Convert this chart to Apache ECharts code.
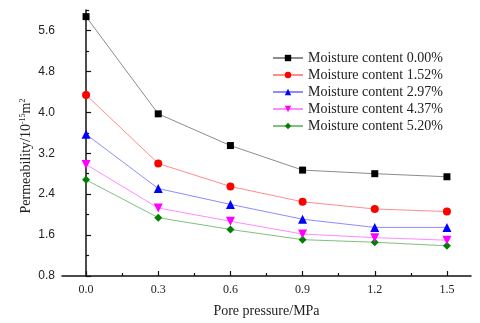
<!DOCTYPE html>
<html>
<head>
<meta charset="utf-8">
<script src="https://cdn.jsdelivr.net/npm/echarts@6/dist/echarts.min.js"></script>
<style>
  html, body { margin: 0; padding: 0; background: #fff; }
  #chart { width: 480px; height: 323px; }
</style>
</head>
<body>
<div id="chart"></div>
<script>
// pore pressure (MPa)
const pressure = [0.0, 0.3, 0.6, 0.9, 1.2, 1.5];

// permeability (10^-15 m^2) for each moisture content
const moisture000 = [5.87, 3.97, 3.35, 2.87, 2.80, 2.74];
const moisture152 = [4.34, 3.00, 2.55, 2.25, 2.11, 2.06];
const moisture297 = [3.57, 2.51, 2.20, 1.91, 1.75, 1.75];
const moisture437 = [2.98, 2.13, 1.87, 1.62, 1.55, 1.50];
const moisture520 = [2.68, 1.94, 1.71, 1.51, 1.46, 1.39];

const seriesNames = [
  'Moisture content 0.00%',
  'Moisture content 1.52%',
  'Moisture content 2.97%',
  'Moisture content 4.37%',
  'Moisture content 5.20%'
];

const xTicks = [0.0, 0.3, 0.6, 0.9, 1.2, 1.5];
const xMinorTicks = [0.15, 0.45, 0.75, 1.05, 1.35];
const yTicks = [0.8, 1.6, 2.4, 3.2, 4.0, 4.8, 5.6];
const yMinorTicks = [1.2, 2.0, 2.8, 3.6, 4.4, 5.2, 6.0];

const chart = echarts.init(document.getElementById('chart'));

const allValues = [moisture000, moisture152, moisture297, moisture437, moisture520];
const markerColors = ['#000000', '#ff0000', '#0000ff', '#ff00ff', '#008000'];
const lineColors = ['#8c8c8c', '#ff8c8c', '#8c8cff', '#ff8cff', '#80c080'];
const symbols = ['rect', 'circle', 'triangle', 'triangle', 'diamond'];
const symbolSizes = [7, 8, 9, 9, 8];
const symbolRotates = [0, 0, 0, 180, 0];

const series = allValues.map((vals, i) => ({
  name: seriesNames[i],
  type: 'line',
  data: vals.map((v, j) => [pressure[j], v]),
  symbol: symbols[i],
  symbolSize: symbolSizes[i],
  symbolRotate: symbolRotates[i],
  itemStyle: { color: markerColors[i] },
  lineStyle: { color: lineColors[i], width: 1 },
  z: 10 - i
}));

const axisColor = '#111';

const option = {
  backgroundColor: '#fff',
  animation: false,
  grid: { left: 62, right: 9, top: 10, bottom: 45 },
  legend: {
    orient: 'vertical',
    left: 267,
    top: 46,
    itemWidth: 30,
    itemHeight: 8,
    itemGap: 3,
    textStyle: { fontFamily: 'Liberation Serif', fontSize: 14, color: '#222' },
    data: seriesNames
  },
  xAxis: [
    {
      type: 'value',
      min: -0.1,
      max: 1.6,
      name: 'Pore pressure/MPa',
      nameLocation: 'middle',
      nameGap: 28,
      nameTextStyle: { fontFamily: 'Liberation Serif', fontSize: 14, color: '#222' },
      axisLine: { show: true, lineStyle: { color: axisColor, width: 1.5 } },
      axisTick: { show: true, inside: true, length: 5, customValues: xTicks, lineStyle: { color: axisColor, width: 1.2 } },
      axisLabel: {
        customValues: xTicks,
        margin: 8,
        fontFamily: 'Liberation Serif',
        fontSize: 12,
        color: '#222',
        formatter: v => v.toFixed(1)
      },
      splitLine: { show: false }
    },
    {
      type: 'value',
      min: -0.1,
      max: 1.6,
      position: 'bottom',
      axisLine: { show: false },
      axisTick: { show: true, inside: true, length: 3, customValues: xMinorTicks, lineStyle: { color: axisColor, width: 1.2 } },
      axisLabel: { show: false },
      splitLine: { show: false }
    }
  ],
  yAxis: [
    {
      type: 'value',
      min: 0.8,
      max: 6.0,
      axisLine: { show: true, lineStyle: { color: axisColor, width: 1.5 } },
      axisTick: { show: true, inside: true, length: 5, customValues: yTicks, lineStyle: { color: axisColor, width: 1.2 } },
      axisLabel: {
        customValues: yTicks,
        margin: 7,
        fontFamily: 'Liberation Sans',
        fontSize: 12,
        color: '#222',
        formatter: v => v.toFixed(1)
      },
      splitLine: { show: false }
    },
    {
      type: 'value',
      min: 0.8,
      max: 6.0,
      position: 'left',
      axisLine: { show: false },
      axisTick: { show: true, inside: true, length: 3, customValues: yMinorTicks, lineStyle: { color: axisColor, width: 1.2 } },
      axisLabel: { show: false },
      splitLine: { show: false }
    }
  ],
  graphic: [
    {
      type: 'text',
      x: 26,
      y: 156,
      rotation: Math.PI / 2,
      style: {
        text: 'Permeability/10{sup|-15}m{sup|2}',
        fontFamily: 'Liberation Serif',
        fontSize: 14,
        fill: '#222',
        align: 'center',
        verticalAlign: 'middle',
        rich: {
          sup: { fontFamily: 'Liberation Serif', fontSize: 8, fill: '#222', verticalAlign: 'top', padding: [0, 0, 6, 0] }
        }
      }
    }
  ],
  series: series
};

chart.setOption(option);
</script>
</body>
</html>
